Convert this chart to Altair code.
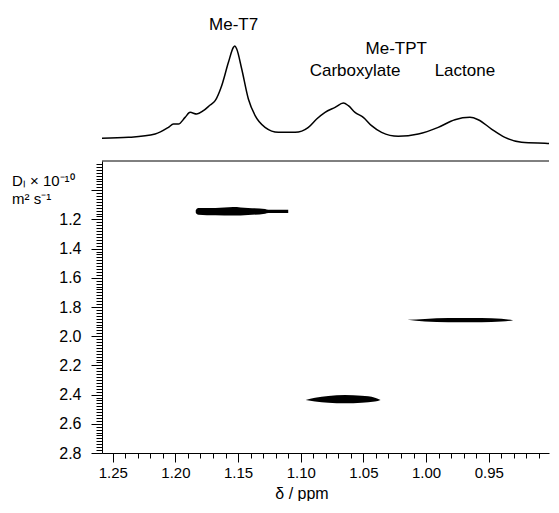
import altair as alt
import pandas as pd

# ---- 1D spectrum (top trace) ----
spec_ppm = [1.2586, 1.2375, 1.2162, 1.2056, 1.2016, 1.1976, 1.1923, 1.1883, 1.1830,
            1.1777, 1.1723, 1.1683, 1.1631, 1.1577, 1.1537, 1.1526, 1.1511, 1.1471,
            1.1418, 1.1364, 1.1285, 1.1179, 1.1045, 1.0939, 1.0873, 1.0806, 1.0726,
            1.0660, 1.0620, 1.0567, 1.0501, 1.0435, 1.0355, 1.0222, 1.0062, 0.9903,
            0.9770, 0.9650, 0.9584, 0.9478, 0.9371, 0.9238, 0.9052, 0.8966]
spec_int = [5.8, 6.8, 10.2, 17.0, 20.4, 20.4, 27.2, 32.3, 30.6,
            34.0, 39.8, 44.2, 59.5, 83.4, 98.7, 100.0, 96.9, 76.5,
            45.9, 28.9, 17.0, 11.9, 11.9, 17.0, 25.5, 32.3, 37.4,
            41.8, 39.1, 32.3, 27.2, 18.7, 11.9, 7.9, 10.2, 17.0,
            24.8, 27.2, 24.8, 15.3, 6.8, 1.7, 0.7, 0.3]

# ---- peak labels ----
label_text = ["Me-T7", "Me-TPT", "Carboxylate", "Lactone"]
label_ppm = [1.1536, 1.0238, 1.0567, 0.9690]
label_int = [121.5, 96.5, 75.0, 75.0]

# ---- DOSY cross peaks: ppm, upper and lower diffusion edge ----
blob_t7_ppm = [1.1838, 1.1830, 1.1817, 1.1680, 1.1540, 1.1420, 1.1285, 1.1259, 1.1100]
blob_t7_top = [1.138, 1.1265, 1.1218, 1.1218, 1.1150, 1.1218, 1.1286, 1.1333, 1.1333]
blob_t7_bot = [1.152, 1.1626, 1.1673, 1.1721, 1.1740, 1.1694, 1.1605, 1.1558, 1.1558]

blob_carb_ppm = [1.0961, 1.0886, 1.0780, 1.0647, 1.0514, 1.0408, 1.0363]
blob_carb_top = [2.437, 2.421, 2.410, 2.403, 2.408, 2.421, 2.437]
blob_carb_bot = [2.437, 2.448, 2.455, 2.460, 2.455, 2.448, 2.437]

blob_lac_ppm = [1.0148, 1.0009, 0.9823, 0.9557, 0.9398, 0.9305]
blob_lac_top = [1.888, 1.882, 1.875, 1.875, 1.880, 1.890]
blob_lac_bot = [1.888, 1.900, 1.904, 1.904, 1.900, 1.890]

# ---- axes ----
x_domain = [0.9019, 1.2586]
y_domain = [0.8, 2.8]
x_tick_values = [round(0.91 + 0.01 * i, 2) for i in range(35)]
y_tick_values = [round(0.82 + 0.02 * i, 2) for i in range(100)]

FONT = "Liberation Sans"

spec_df = pd.DataFrame({"ppm": spec_ppm, "I": spec_int})
lab_df = pd.DataFrame({"t": label_text, "ppm": label_ppm, "I": label_int})
rows = []
for name, p, t, b in [("t7", blob_t7_ppm, blob_t7_top, blob_t7_bot),
                      ("carb", blob_carb_ppm, blob_carb_top, blob_carb_bot),
                      ("lac", blob_lac_ppm, blob_lac_top, blob_lac_bot)]:
    for pi, ti, bi in zip(p, t, b):
        rows.append({"blob": name, "ppm": pi, "top": ti, "bot": bi})
blob_df = pd.DataFrame(rows)

xscale = alt.Scale(domain=x_domain, reverse=True, nice=False, zero=False)
yscale = alt.Scale(domain=y_domain, reverse=True, nice=False, zero=False)
iscale = alt.Scale(domain=[-16.3, 134.7], nice=False, zero=False)

ytitle = ["D\u2097 \u00d7 10\u207b\u00b9\u2070", "m\u00b2 s\u207b\u00b9"]

hidden_axis = alt.Axis(title=ytitle, domain=False, ticks=False, labels=False, grid=False,
                       titleColor="transparent", titleAngle=0, titleAlign="left",
                       titleBaseline="alphabetic", titleX=-90.5, titleY=24,
                       titleFontSize=15, titleFont=FONT, titleFontWeight="normal",
                       titleLineHeight=18)

line = alt.Chart(spec_df).mark_line(color="black", strokeWidth=1.5, interpolate="monotone", clip=True).encode(
    x=alt.X("ppm:Q", scale=xscale, axis=None),
    y=alt.Y("I:Q", scale=iscale, axis=hidden_axis),
)
text = alt.Chart(lab_df).mark_text(font=FONT, fontSize=17, color="black", baseline="middle").encode(
    x=alt.X("ppm:Q", scale=xscale),
    y=alt.Y("I:Q", scale=iscale),
    text="t:N",
)
top = alt.layer(line, text).properties(width=447, height=148)

x_major = "abs(datum.value*20 - round(datum.value*20)) < 0.001"
y_major = "abs(datum.value*5 - round(datum.value*5)) < 0.001"
x_lab = "(" + x_major + " && datum.value > 0.92)"
y_lab = "(" + y_major + " && datum.value > 1.1)"

xaxis = alt.Axis(
    values=x_tick_values, tickCount=1000, title="\u03b4 / ppm", grid=False,
    tickSize={"condition": {"test": x_major, "value": 9}, "value": 5},
    labelFontSize={"condition": {"test": x_lab, "value": 15}, "value": 0},
    labelExpr=x_lab + " ? format(datum.value, '.2f') + ' ' : ''",
    labelFlush=False, labelOverlap=False, labelPadding=3,
    titleX=199.5, titleY=45, titleAlign="center", titleBaseline="alphabetic",
    titleFontSize=16,
)
yaxis = alt.Axis(
    values=y_tick_values, tickCount=1000, title=ytitle, grid=False,
    tickSize={"condition": {"test": y_major, "value": 11}, "value": 6},
    labelFontSize={"condition": {"test": y_lab, "value": 16}, "value": 0},
    labelExpr=y_lab + " ? format(datum.value, '.1f') : ''",
    labelFlush=False, labelOverlap=False, labelPadding=10,
    titleAngle=0, titleAlign="left", titleBaseline="alphabetic",
    titleX=-90.5, titleY=24, titleLineHeight=18,
)

blobs = alt.Chart(blob_df).mark_area(color="black", interpolate="monotone", opacity=1).encode(
    x=alt.X("ppm:Q", scale=xscale, axis=xaxis),
    y=alt.Y("top:Q", scale=yscale, axis=yaxis),
    y2="bot:Q",
    detail="blob:N",
)
border = alt.Chart(pd.DataFrame({"v": [y_domain[0]]})).mark_rule(color="black", strokeWidth=1).encode(
    y=alt.Y("v:Q", scale=yscale),
)
bottom = alt.layer(blobs, border).properties(width=447, height=292)

chart = alt.vconcat(top, bottom, spacing=0).properties(
    padding={"left": 3, "top": 4, "right": 0, "bottom": 0}
).configure_view(stroke=None).configure_axis(
    domainColor="black", tickColor="black", labelColor="black", titleColor="black",
    labelFont=FONT, titleFont=FONT, labelFontSize=16, titleFontSize=15,
    titleFontWeight="normal", domainWidth=1, tickWidth=1,
)

chart.save("out.html", embed_options={"renderer": "svg", "actions": False})
